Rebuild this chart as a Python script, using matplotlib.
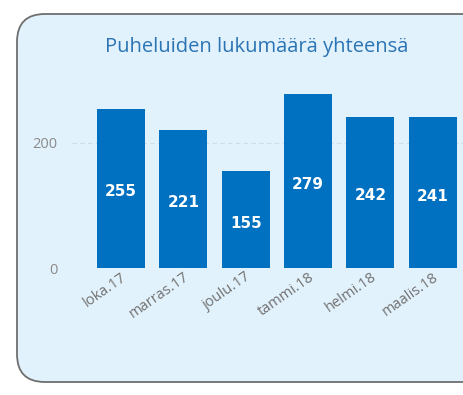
import matplotlib.pyplot as plt
from matplotlib.patches import FancyBboxPatch
from matplotlib.transforms import ScaledTranslation

months = ["loka.17", "marras.17", "joulu.17", "tammi.18", "helmi.18", "maalis.18"]
calls = [255, 221, 155, 279, 242, 241]
yticks = [0, 200]

W, H = 464, 395
fig = plt.figure(figsize=(W / 100, H / 100), dpi=100)
fig.patch.set_facecolor("white")

# rounded panel, cut off at the right edge like the original
box = FancyBboxPatch((17 / W, 13 / H), 480 / W, 368 / H,
                     boxstyle="round,pad=0,rounding_size=0.06",
                     transform=fig.transFigure, facecolor="#e2f2fc",
                     edgecolor="#6e6e6e", linewidth=1.3, mutation_aspect=W / H,
                     zorder=-5)
fig.patches.append(box)

fig.text(257 / W, 1 - 47 / H, "Puheluiden lukumäärä yhteensä", ha="center", va="center",
         fontsize=14.5, color="#2b74b4", family="Open Sans")

ax = fig.add_axes([72 / W, (H - 268) / H, (464 - 72) / W, 187.5 / H])
ax.set_zorder(2)
ax.set_facecolor("none")
x = list(range(len(months)))
bars = ax.bar(x, calls, width=0.77, color="#0070c0", zorder=3)
for b, v in zip(bars, calls):
    ax.annotate(str(v), (b.get_x() + b.get_width() / 2, v / 2), xytext=(0, -2.5),
                textcoords="offset points", ha="center", va="center",
                color="white", fontsize=11, fontweight="bold", zorder=4)

ax.set_xlim(-0.785, 5.5)
ax.set_ylim(0, 300)
ax.set_yticks(yticks)
ax.set_yticklabels([str(t) for t in yticks], color="#8a8a8a", fontsize=10.5, family="Open Sans")
ax.set_xticks(x)
ax.set_xticklabels(months, rotation=35, ha="right", rotation_mode="anchor",
                   color="#707070", fontsize=10.5, family="Open Sans")
shift = ScaledTranslation(-7 / 100, 0, fig.dpi_scale_trans)
for lbl in ax.get_xticklabels():
    lbl.set_transform(lbl.get_transform() + shift)
ax.tick_params(axis="both", length=0)
ax.tick_params(axis="y", pad=10.5)
ax.tick_params(axis="x", pad=1)
for s in ax.spines.values():
    s.set_visible(False)
ax.yaxis.grid(True, color="#cfdde8", linestyle=(0, (4, 3)), linewidth=0.8, zorder=0)

fig.savefig("out.png", dpi=100)
